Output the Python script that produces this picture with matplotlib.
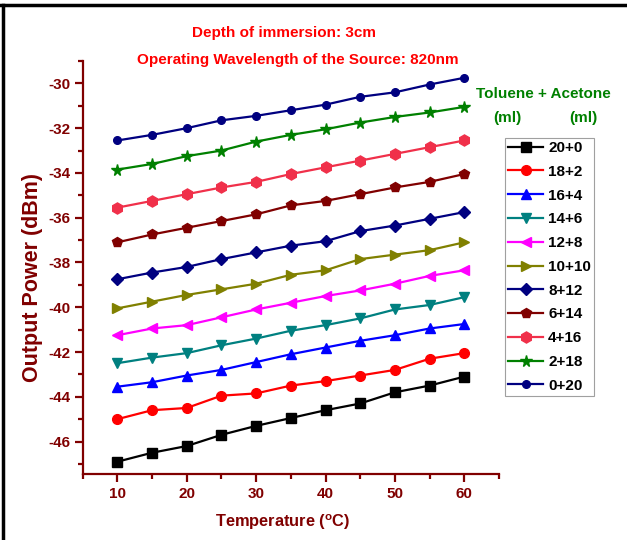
import matplotlib
matplotlib.use("Agg")
import matplotlib.pyplot as plt
from matplotlib.lines import Line2D
from matplotlib.ticker import MultipleLocator

plt.rcParams["axes.unicode_minus"] = False

# Temperature sweep (°C)
temperature = [10, 15, 20, 25, 30, 35, 40, 45, 50, 55, 60]

# Mixture labels: Toluene + Acetone (ml)
mixtures = ["20+0", "18+2", "16+4", "14+6", "12+8", "10+10",
            "8+12", "6+14", "4+16", "2+18", "0+20"]

# Output power (dBm) for each mixture
p_20_0 = [-46.9, -46.5, -46.2, -45.7, -45.3, -44.95, -44.6, -44.3, -43.8, -43.5, -43.1]
p_18_2 = [-45.0, -44.6, -44.5, -43.95, -43.85, -43.5, -43.3, -43.05, -42.8, -42.3, -42.05]
p_16_4 = [-43.55, -43.35, -43.05, -42.8, -42.45, -42.1, -41.8, -41.5, -41.25, -40.95, -40.75]
p_14_6 = [-42.5, -42.25, -42.05, -41.7, -41.4, -41.05, -40.8, -40.5, -40.1, -39.9, -39.55]
p_12_8 = [-41.25, -40.95, -40.8, -40.45, -40.1, -39.8, -39.5, -39.25, -38.95, -38.6, -38.35]
p_10_10 = [-40.05, -39.75, -39.45, -39.2, -38.95, -38.55, -38.35, -37.85, -37.65, -37.45, -37.1]
p_8_12 = [-38.75, -38.45, -38.2, -37.85, -37.55, -37.25, -37.05, -36.6, -36.35, -36.05, -35.75]
p_6_14 = [-37.1, -36.75, -36.45, -36.15, -35.85, -35.45, -35.25, -34.95, -34.65, -34.4, -34.05]
p_4_16 = [-35.55, -35.25, -34.95, -34.65, -34.4, -34.05, -33.75, -33.45, -33.15, -32.85, -32.55]
p_2_18 = [-33.85, -33.6, -33.25, -33.0, -32.6, -32.3, -32.05, -31.75, -31.5, -31.3, -31.05]
p_0_20 = [-32.55, -32.3, -32.0, -31.65, -31.45, -31.2, -30.95, -30.6, -30.4, -30.05, -29.75]

series = [p_20_0, p_18_2, p_16_4, p_14_6, p_12_8, p_10_10,
          p_8_12, p_6_14, p_4_16, p_2_18, p_0_20]
colors = ["#000000", "#FF0000", "#0000FF", "#008080", "#FF00FF", "#808000",
          "#000080", "#800000", "#F0304A", "#008000", "#000080"]
markers = ["s", "o", "^", "v", "<", ">", "D", "p", "h", "*", "o"]
msizes = [6.5, 7, 7.5, 7.5, 7.5, 7.5, 6, 7.5, 8, 8.5, 5.5]

axis_red = "#800000"
font = ["Liberation Sans", "DejaVu Sans"]

W, H = 627, 540
fig = plt.figure(figsize=(W / 100, H / 100), dpi=100)
ax = fig.add_axes([82.7 / W, 1 - 474 / H, (499 - 82.7) / W, (474 - 61) / H])

for vals, c, m, ms, lab in zip(series, colors, markers, msizes, mixtures):
    ax.plot(temperature, vals, color=c, marker=m, markersize=ms, lw=1.6,
            markeredgecolor=c, markerfacecolor=c, label=lab)

ax.set_xlim(5, 65)
ax.set_ylim(-47.45, -29)
ax.xaxis.set_major_locator(MultipleLocator(10))
ax.xaxis.set_minor_locator(MultipleLocator(5))
ax.yaxis.set_major_locator(MultipleLocator(2))
ax.yaxis.set_minor_locator(MultipleLocator(1))

for side in ("top", "right"):
    ax.spines[side].set_visible(False)
for side in ("left", "bottom"):
    ax.spines[side].set_color(axis_red)
    ax.spines[side].set_linewidth(1.6)

ax.tick_params(which="both", direction="out", color=axis_red, width=1.6)
ax.tick_params(which="major", length=6, labelsize=11, labelcolor=axis_red, pad=3)
ax.tick_params(which="minor", length=3.5)
for t in ax.get_xticklabels() + ax.get_yticklabels():
    t.set_fontfamily(font)
    t.set_fontweight("bold")

ax.set_xlabel(r"Temperature ($\mathregular{^{o}}$C)", color=axis_red,
              fontsize=11.8, fontweight="bold", family=font, va="center")
ax.xaxis.set_label_coords(283 / W, 1 - 522 / H, transform=fig.transFigure)
ax.set_ylabel("Output Power (dBm)", color=axis_red, fontsize=15.5,
              fontweight="bold", family=font, va="center")
ax.yaxis.set_label_coords(33 / W, 1 - 277 / H, transform=fig.transFigure)

# Titles
fig.text(284 / W, 1 - 33 / H, "Depth of immersion: 3cm",
         color="#FF0000", fontsize=11, fontweight="bold", family=font,
         ha="center", va="center")
fig.text(298 / W, 1 - 60 / H, "Operating Wavelength of the Source: 820nm",
         color="#FF0000", fontsize=11, fontweight="bold", family=font,
         ha="center", va="center")

# Legend heading
green = "#008000"
fig.text(543 / W, 1 - 94 / H, "Toluene + Acetone", color=green, fontsize=11,
         fontweight="bold", family=font, ha="center", va="center")
fig.text(507 / W, 1 - 118 / H, "(ml)", color=green, fontsize=11,
         fontweight="bold", family=font, ha="center", va="center")
fig.text(583 / W, 1 - 118 / H, "(ml)", color=green, fontsize=11,
         fontweight="bold", family=font, ha="center", va="center")

leg = ax.legend(loc="upper left", bbox_to_anchor=(505 / W, 1 - 138 / H),
                bbox_transform=fig.transFigure, borderaxespad=0,
                frameon=True, fancybox=False, handlelength=2.3,
                handletextpad=0.33, labelspacing=0.64, borderpad=0.2,
                prop={"family": font, "weight": "bold", "size": 11})
leg.get_frame().set_edgecolor("#888888")
leg.get_frame().set_linewidth(0.8)

# Outer frame lines along the top and left edges
fig.add_artist(Line2D([0, 1], [1 - 5 / H, 1 - 5 / H], transform=fig.transFigure,
                      color="black", lw=2.5))
fig.add_artist(Line2D([3 / W, 3 / W], [0, 1 - 5 / H], transform=fig.transFigure,
                      color="black", lw=2.5))

fig.savefig("out.png", dpi=100)
